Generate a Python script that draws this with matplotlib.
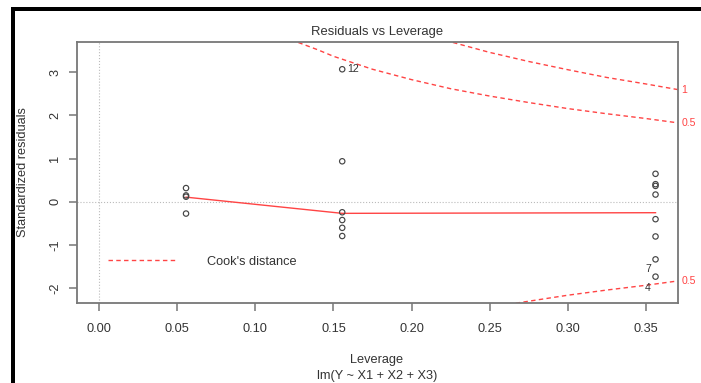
import matplotlib
matplotlib.use("Agg")
import matplotlib.pyplot as plt
from matplotlib.patches import Rectangle

plt.rcParams['font.family'] = ['Liberation Sans', 'DejaVu Sans']

# leverage / standardized residuals
leverage = [0.0556, 0.0556, 0.0556, 0.0556,
            0.1556, 0.1556, 0.1556, 0.1556, 0.1556, 0.1556,
            0.3562, 0.3562, 0.3562, 0.3562, 0.3562, 0.3562, 0.3562, 0.3562]
std_resid = [0.32, 0.15, 0.12, -0.27,
             3.07, 0.94, -0.24, -0.42, -0.60, -0.79,
             0.65, 0.41, 0.37, 0.17, -0.40, -0.80, -1.33, -1.73]

# red smoother
smooth_x = [0.0556, 0.1556, 0.3562]
smooth_y = [0.11, -0.265, -0.25]

# cook's distance contours
cook05_h = [0.1275, 0.14, 0.15, 0.175, 0.2, 0.225, 0.25, 0.275, 0.3, 0.325, 0.35, 0.3704]
cook05_up = [3.69, 3.52, 3.37, 3.07, 2.83, 2.62, 2.45, 2.30, 2.16, 2.04, 1.93, 1.83]
cook1_h = [0.2265, 0.25, 0.275, 0.3, 0.325, 0.35, 0.3704]
cook1_up = [3.69, 3.46, 3.25, 3.06, 2.88, 2.73, 2.60]
cook05_low_h = [0.2667, 0.3, 0.325, 0.35, 0.3704]
cook05_low = [-2.345, -2.16, -2.04, -1.93, -1.83]

id_labels = ['12', '7', '4']
id_x = [0.1588, 0.3515, 0.3513]
id_y = [3.07, -1.56, -1.99]

xticks = [0.00, 0.05, 0.10, 0.15, 0.20, 0.25, 0.30, 0.35]
yticks = [-2, -1, 0, 1, 2, 3]

W, H = 701, 383
red = '#FF4444'
grey = '#777777'
txt = '#333333'

fig = plt.figure(figsize=(W / 100, H / 100), dpi=100)
ax = fig.add_axes([76.7 / W, 1 - 303.3 / H, 601 / W, 261 / H])

ax.axhline(0, color='#BBBBBB', ls=':', lw=0.8)
ax.axvline(0, color='#BBBBBB', ls=':', lw=0.8)

dash = (0, (3.2, 2.4))
ax.plot(cook05_h, cook05_up, color=red, lw=1.0, ls=dash, label="Cook's distance")
ax.plot(cook1_h, cook1_up, color=red, lw=1.0, ls=dash)
ax.plot(cook05_low_h, cook05_low, color=red, lw=1.0, ls=dash)

ax.plot(smooth_x, smooth_y, color=red, lw=1.0)
ax.scatter(leverage, std_resid, s=15, facecolors='none', edgecolors='#444444',
           linewidths=0.85, zorder=3)

for lab, x, y in zip(id_labels, id_x, id_y):
    ax.text(x, y, lab, fontsize=7.6, color=txt,
            ha='left' if lab == '12' else 'center', va='center')

xmax = 0.3704
for lab, y in zip(['1', '0.5', '0.5'], [2.60, 1.83, -1.83]):
    ax.text(xmax + 0.0025, y, lab, fontsize=7.6, color=red, ha='left',
            va='center', clip_on=False)

ax.set_xlim(-0.0144, xmax)
ax.set_ylim(-2.347, 3.694)
ax.set_xticks(xticks)
ax.set_xticklabels([f'{t:.2f}' for t in xticks])
ax.set_yticks(yticks)
ax.set_yticklabels([str(t) for t in yticks])
ax.tick_params(axis='both', colors=grey, labelcolor=txt, labelsize=9.2,
               length=6, width=1.1, direction='out')
ax.tick_params(axis='x', pad=8)
ax.tick_params(axis='y', pad=5, labelrotation=90)
for lbl in ax.get_yticklabels():
    lbl.set_va('center')
for s in ax.spines.values():
    s.set_color(grey)
    s.set_linewidth(1.3)

ax.legend(loc='center left', bbox_to_anchor=(0.0526, 0.159), frameon=False,
          fontsize=9.2, handlelength=5.3, handletextpad=2.4, borderpad=0,
          borderaxespad=0, labelcolor=txt)

fig.text(377 / W, 1 - 32 / H, 'Residuals vs Leverage', ha='center', va='center',
         fontsize=9.4, color=txt)
fig.text(377 / W, 1 - 360 / H, 'Leverage', ha='center', va='center',
         fontsize=9.2, color=txt)
fig.text(377 / W, 1 - 375.7 / H, 'lm(Y ~ X1 + X2 + X3)', ha='center',
         va='center', fontsize=9.2, color=txt)
fig.text(22.7 / W, 1 - 172.5 / H, 'Standardized residuals', ha='center',
         va='center', rotation=90, fontsize=9.2, color=txt)

# black frame strips on the left and top edge
fig.add_artist(Rectangle((11 / W, 0), 4 / W, 1 - 7 / H, transform=fig.transFigure,
                         color='black', lw=0))
fig.add_artist(Rectangle((11 / W, 1 - 10.7 / H), 1 - 11 / W, 3.7 / H,
                         transform=fig.transFigure, color='black', lw=0))

fig.savefig('out.png', dpi=100)
